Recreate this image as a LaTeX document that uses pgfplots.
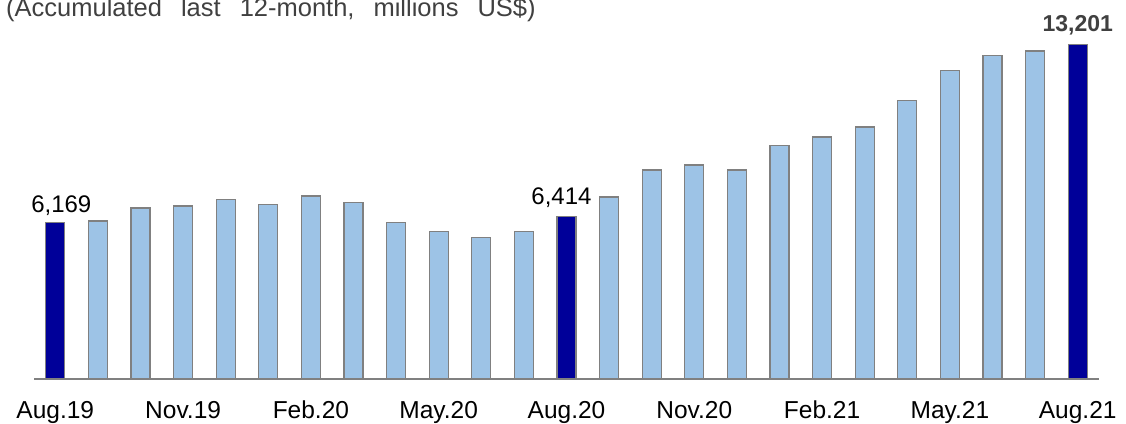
\documentclass[border=0pt]{standalone}
\usepackage{fontspec}
\setmainfont{Liberation Sans}
\usepackage{pgfplots}
\pgfplotsset{compat=1.18}
\definecolor{lightbar}{HTML}{9DC3E6}
\definecolor{darkbar}{HTML}{000099}
\definecolor{edgegray}{HTML}{808080}
\definecolor{titlegray}{HTML}{404040}
\begin{document}
\begin{tikzpicture}[x=1pt,y=1pt]
\useasboundingbox (0,0) rectangle (1126,423);
\node[anchor=base west, text=titlegray, font=\fontsize{25.5}{28}\selectfont, inner sep=0pt] at (6,406) {(Accumulated\hspace{19pt}last\hspace{19pt}12-month,\hspace{19pt}millions\hspace{19pt}US\$)};
\begin{axis}[
  at={(34pt,44pt)}, anchor=south west,
  scale only axis, width=1065pt, height=341.8pt,
  xmin=-0.5, xmax=24.5, ymin=0, ymax=13500,
  axis y line=none, axis x line=bottom,
  x axis line style={-, draw=edgegray, line width=1.5pt},
  xtick={0,3,...,24},
  xticklabels={Aug.19,Nov.19,Feb.20,May.20,Aug.20,Nov.20,Feb.21,May.21,Aug.21},
  major tick length=0pt,
  xticklabel style={font=\fontsize{24.5}{28}\selectfont, anchor=base, yshift=-39pt},
  ytick=\empty,
  ybar, bar width=19pt,
  clip=false,
]
\addplot[fill=lightbar, draw=edgegray, line width=1.3pt, bar shift=0pt] coordinates {
(1,6235) (2,6750) (3,6829) (4,7080) (5,6895) (6,7225) (7,6961) (8,6180) (9,5839) (10,5575) (11,5839)
(13,7192) (14,8249) (15,8448) (16,8249) (17,9228) (18,9558) (19,9955) (20,11012) (21,12176) (22,12771) (23,12956)
};
\addplot[fill=darkbar, draw=edgegray, line width=1.3pt, bar shift=0pt] coordinates {
(0,6169) (12,6414) (24,13201)
};
\node[anchor=base, font=\fontsize{24}{28}\selectfont, xshift=6pt, yshift=10pt, inner sep=0pt] at (axis cs:0,6169) {6,169};
\node[anchor=base, font=\fontsize{24}{28}\selectfont, xshift=-5pt, yshift=12pt, inner sep=0pt] at (axis cs:12,6414) {6,414};
\node[anchor=base, font=\bfseries\fontsize{23}{28}\selectfont, text=titlegray, yshift=13pt, inner sep=0pt] at (axis cs:24,13201) {13,201};
\end{axis}
\end{tikzpicture}
\end{document}
